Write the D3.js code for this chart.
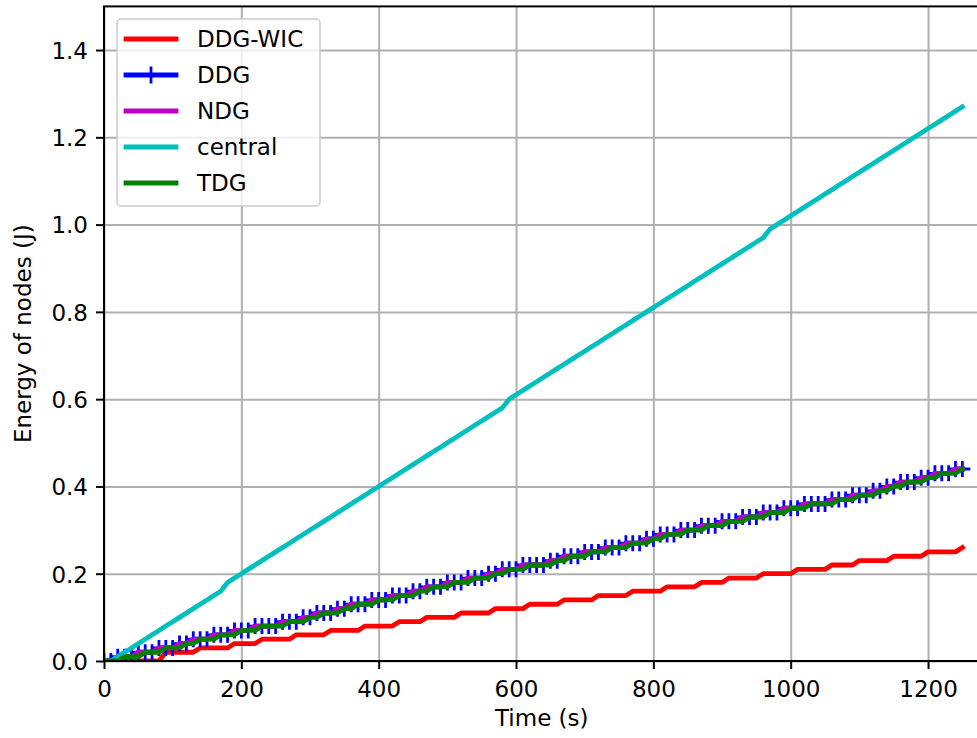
<!DOCTYPE html>
<html>
<head>
<meta charset="utf-8">
<script src="https://cdn.jsdelivr.net/npm/d3@7"></script>
<style>
  html, body { margin: 0; padding: 0; background: #ffffff; }
  svg { display: block; font-family: "DejaVu Sans", sans-serif; }
</style>
</head>
<body>
<svg id="chart" width="977" height="738"></svg>
<script>
// ---- Data ----
const timeSeconds = [
  0,10,20,30,40,50,60,70,80,90,
  100,110,120,130,140,150,160,170,180,190,
  200,210,220,230,240,250,260,270,280,290,
  300,310,320,330,340,350,360,370,380,390,
  400,410,420,430,440,450,460,470,480,490,
  500,510,520,530,540,550,560,570,580,590,
  600,610,620,630,640,650,660,670,680,690,
  700,710,720,730,740,750,760,770,780,790,
  800,810,820,830,840,850,860,870,880,890,
  900,910,920,930,940,950,960,970,980,990,
  1000,1010,1020,1030,1040,1050,1060,1070,1080,1090,
  1100,1110,1120,1130,1140,1150,1160,1170,1180,1190,
  1200,1210,1220,1230,1240,1250
];

const energyDDGWIC = [
  0,0,0,0,0,0,0,0,0,0.02,
  0.02,0.02,0.02,0.02,0.03,0.03,0.03,0.03,0.03,0.04,
  0.04,0.04,0.04,0.05,0.05,0.05,0.05,0.05,0.06,0.06,
  0.06,0.06,0.06,0.07,0.07,0.07,0.07,0.07,0.08,0.08,
  0.08,0.08,0.08,0.09,0.09,0.09,0.09,0.10,0.10,0.10,
  0.10,0.10,0.11,0.11,0.11,0.11,0.11,0.12,0.12,0.12,
  0.12,0.12,0.13,0.13,0.13,0.13,0.13,0.14,0.14,0.14,
  0.14,0.14,0.15,0.15,0.15,0.15,0.15,0.16,0.16,0.16,
  0.16,0.16,0.17,0.17,0.17,0.17,0.17,0.18,0.18,0.18,
  0.18,0.19,0.19,0.19,0.19,0.19,0.20,0.20,0.20,0.20,
  0.20,0.21,0.21,0.21,0.21,0.21,0.22,0.22,0.22,0.22,
  0.23,0.23,0.23,0.23,0.23,0.24,0.24,0.24,0.24,0.24,
  0.25,0.25,0.25,0.25,0.25,0.26
];

const energyDDG = [
  0,0,0.01,0.01,0.01,0.02,0.02,0.02,0.03,0.03,
  0.03,0.04,0.04,0.05,0.05,0.05,0.06,0.06,0.06,0.07,
  0.07,0.07,0.08,0.08,0.08,0.08,0.09,0.09,0.09,0.10,
  0.10,0.11,0.11,0.11,0.12,0.12,0.13,0.13,0.13,0.14,
  0.14,0.14,0.15,0.15,0.15,0.16,0.16,0.17,0.17,0.17,
  0.18,0.18,0.18,0.19,0.19,0.19,0.20,0.20,0.21,0.21,
  0.21,0.22,0.22,0.22,0.22,0.23,0.23,0.24,0.24,0.24,
  0.25,0.25,0.25,0.26,0.26,0.26,0.27,0.27,0.27,0.28,
  0.28,0.29,0.29,0.29,0.30,0.30,0.30,0.31,0.31,0.31,
  0.32,0.32,0.32,0.33,0.33,0.33,0.34,0.34,0.34,0.35,
  0.35,0.35,0.36,0.36,0.36,0.36,0.37,0.37,0.37,0.38,
  0.38,0.38,0.39,0.39,0.40,0.40,0.41,0.41,0.41,0.42,
  0.42,0.43,0.43,0.43,0.44,0.44
];

const energyNDG = [
  0,0,0.01,0.01,0.01,0.02,0.02,0.02,0.03,0.03,
  0.03,0.04,0.04,0.05,0.05,0.05,0.06,0.06,0.06,0.07,
  0.07,0.07,0.08,0.08,0.08,0.08,0.09,0.09,0.09,0.10,
  0.10,0.11,0.11,0.11,0.12,0.12,0.13,0.13,0.13,0.14,
  0.14,0.14,0.15,0.15,0.15,0.16,0.16,0.17,0.17,0.17,
  0.18,0.18,0.18,0.19,0.19,0.19,0.20,0.20,0.21,0.21,
  0.21,0.22,0.22,0.22,0.22,0.23,0.23,0.24,0.24,0.24,
  0.25,0.25,0.25,0.26,0.26,0.26,0.27,0.27,0.27,0.28,
  0.28,0.29,0.29,0.29,0.30,0.30,0.30,0.31,0.31,0.31,
  0.32,0.32,0.32,0.33,0.33,0.33,0.34,0.34,0.34,0.35,
  0.35,0.35,0.36,0.36,0.36,0.36,0.37,0.37,0.37,0.38,
  0.38,0.38,0.39,0.39,0.40,0.40,0.41,0.41,0.41,0.42,
  0.42,0.43,0.43,0.43,0.44,0.44
];

const energyCentral = [
  0,0,0.01,0.02,0.03,0.04,0.05,0.06,0.07,0.08,
  0.09,0.10,0.11,0.12,0.13,0.14,0.15,0.16,0.18,0.19,
  0.20,0.21,0.22,0.23,0.24,0.25,0.26,0.27,0.28,0.29,
  0.30,0.31,0.32,0.33,0.34,0.35,0.36,0.37,0.38,0.39,
  0.40,0.41,0.42,0.43,0.44,0.45,0.46,0.47,0.48,0.49,
  0.50,0.51,0.52,0.53,0.54,0.55,0.56,0.57,0.58,0.60,
  0.61,0.62,0.63,0.64,0.65,0.66,0.67,0.68,0.69,0.70,
  0.71,0.72,0.73,0.74,0.75,0.76,0.77,0.78,0.79,0.80,
  0.81,0.82,0.83,0.84,0.85,0.86,0.87,0.88,0.89,0.90,
  0.91,0.92,0.93,0.94,0.95,0.96,0.97,0.99,1.00,1.01,
  1.02,1.03,1.04,1.05,1.06,1.07,1.08,1.09,1.10,1.11,
  1.12,1.13,1.14,1.15,1.16,1.17,1.18,1.19,1.20,1.21,
  1.22,1.23,1.24,1.25,1.26,1.27
];

const energyTDG = [
  0,0,0,0.01,0.01,0.01,0.02,0.02,0.02,0.03,
  0.03,0.03,0.04,0.04,0.05,0.05,0.05,0.06,0.06,0.06,
  0.07,0.07,0.07,0.08,0.08,0.08,0.08,0.09,0.09,0.09,
  0.10,0.10,0.11,0.11,0.11,0.12,0.12,0.13,0.13,0.13,
  0.14,0.14,0.14,0.15,0.15,0.15,0.16,0.16,0.17,0.17,
  0.17,0.18,0.18,0.18,0.19,0.19,0.19,0.20,0.20,0.21,
  0.21,0.21,0.22,0.22,0.22,0.22,0.23,0.23,0.24,0.24,
  0.24,0.25,0.25,0.25,0.26,0.26,0.26,0.27,0.27,0.27,
  0.28,0.28,0.29,0.29,0.29,0.30,0.30,0.30,0.31,0.31,
  0.31,0.32,0.32,0.32,0.33,0.33,0.33,0.34,0.34,0.34,
  0.35,0.35,0.35,0.36,0.36,0.36,0.36,0.37,0.37,0.37,
  0.38,0.38,0.38,0.39,0.39,0.40,0.40,0.41,0.41,0.41,
  0.42,0.42,0.43,0.43,0.43,0.44
];

const seriesNames = ["DDG-WIC", "DDG", "NDG", "central", "TDG"];
const xTickValues = [0, 200, 400, 600, 800, 1000, 1200];
const yTickValues = [0.0, 0.2, 0.4, 0.6, 0.8, 1.0, 1.2, 1.4];
const xAxisTitle = "Time (s)";
const yAxisTitle = "Energy of nodes (J)";

// ---- Styling / layout ----
const seriesValues = [energyDDGWIC, energyDDG, energyNDG, energyCentral, energyTDG];
const seriesColors = ["#ff0000", "#0000ff", "#bf00bf", "#00bfbf", "#008000"];
const seriesMarker = [false, true, false, false, false];

const FONT = 23;
const svg = d3.select("#chart");
const plotLeft = 104, plotBottom = 661, plotTop = 6.4;
const x = d3.scaleLinear().domain([0, 1275]).range([plotLeft, plotLeft + 1275 * 0.6867]);
const y = d3.scaleLinear().domain([0, 1.5]).range([plotBottom, plotTop]);
const plotRight = x.range()[1];

svg.append("defs").append("clipPath").attr("id", "clip")
  .append("rect").attr("x", plotLeft).attr("y", plotTop)
  .attr("width", plotRight - plotLeft).attr("height", plotBottom - plotTop);

// Grid
const grid = svg.append("g");
grid.append("g").attr("transform", `translate(0,${plotBottom})`)
  .call(d3.axisBottom(x).tickValues(xTickValues).tickSize(-(plotBottom - plotTop)).tickFormat(""))
  .call(g => g.select(".domain").remove())
  .call(g => g.selectAll("line").attr("stroke", "#b0b0b0").attr("stroke-width", 2));
grid.append("g").attr("transform", `translate(${plotLeft},0)`)
  .call(d3.axisLeft(y).tickValues(yTickValues).tickSize(-(plotRight - plotLeft)).tickFormat(""))
  .call(g => g.select(".domain").remove())
  .call(g => g.selectAll("line").attr("stroke", "#b0b0b0").attr("stroke-width", 2));

// Series
const plot = svg.append("g").attr("clip-path", "url(#clip)");
seriesValues.forEach((vals, s) => {
  const pts = timeSeconds.map((t, i) => [t, vals[i]]);
  const line = d3.line().x(d => x(d[0])).y(d => y(d[1]));
  plot.append("path").datum(pts)
    .attr("d", line)
    .attr("fill", "none")
    .attr("stroke", seriesColors[s])
    .attr("stroke-width", 4.8)
    .attr("stroke-linejoin", "round")
    .attr("stroke-linecap", "square");
  if (seriesMarker[s]) {
    plot.append("g").selectAll("path").data(pts).join("path")
      .attr("transform", d => `translate(${x(d[0])},${y(d[1])})`)
      .attr("d", "M-8,0H8M0,-8V8")
      .attr("stroke", seriesColors[s])
      .attr("stroke-width", 2.8)
      .attr("fill", "none");
  }
});

// Spines
svg.append("rect").attr("x", plotLeft).attr("y", plotTop)
  .attr("width", plotRight - plotLeft).attr("height", plotBottom - plotTop)
  .attr("fill", "none").attr("stroke", "#000").attr("stroke-width", 2);

// Axes
const xAxis = svg.append("g").attr("transform", `translate(0,${plotBottom})`)
  .call(d3.axisBottom(x).tickValues(xTickValues).tickSize(8).tickPadding(8).tickFormat(d3.format("d")));
xAxis.select(".domain").remove();
xAxis.selectAll("line").attr("stroke", "#000").attr("stroke-width", 2);
xAxis.selectAll("text").attr("font-size", FONT).attr("font-family", "DejaVu Sans").attr("fill", "#000")
  .attr("dy", null).attr("y", 36);

const yAxis = svg.append("g").attr("transform", `translate(${plotLeft},0)`)
  .call(d3.axisLeft(y).tickValues(yTickValues).tickSize(8).tickPadding(8).tickFormat(d3.format(".1f")));
yAxis.select(".domain").remove();
yAxis.selectAll("line").attr("stroke", "#000").attr("stroke-width", 2);
yAxis.selectAll("text").attr("font-size", FONT).attr("font-family", "DejaVu Sans").attr("fill", "#000")
  .attr("x", -16).attr("dy", "0.36em");

// Axis titles
svg.append("text").attr("x", (plotLeft + plotRight) / 2).attr("y", 726).attr("text-anchor", "middle")
  .attr("font-size", FONT).text(xAxisTitle);
svg.append("text").attr("transform", `translate(31,${(plotTop + plotBottom) / 2}) rotate(-90)`)
  .attr("text-anchor", "middle").attr("font-size", FONT).text(yAxisTitle);

// Legend
const lg = svg.append("g");
lg.append("rect").attr("x", 117).attr("y", 19).attr("width", 203).attr("height", 187)
  .attr("rx", 4).attr("ry", 4)
  .attr("fill", "#ffffff").attr("fill-opacity", 0.8)
  .attr("stroke", "#cccccc").attr("stroke-width", 1.5);
const legendY = d3.scalePoint().domain(seriesNames).range([39, 183]);
seriesNames.forEach((name, s) => {
  const cy = legendY(name);
  lg.append("line").attr("x1", 126).attr("x2", 176).attr("y1", cy).attr("y2", cy)
    .attr("stroke", seriesColors[s]).attr("stroke-width", 4.8).attr("stroke-linecap", "square");
  if (seriesMarker[s]) {
    lg.append("path").attr("transform", `translate(151,${cy})`).attr("d", "M-8,0H8M0,-8.5V8.5")
      .attr("stroke", seriesColors[s]).attr("stroke-width", 2.8).attr("fill", "none");
  }
  lg.append("text").attr("x", 197).attr("y", cy).attr("dy", "0.36em")
    .attr("font-size", FONT).attr("fill", "#000").text(name);
});
</script>
</body>
</html>
